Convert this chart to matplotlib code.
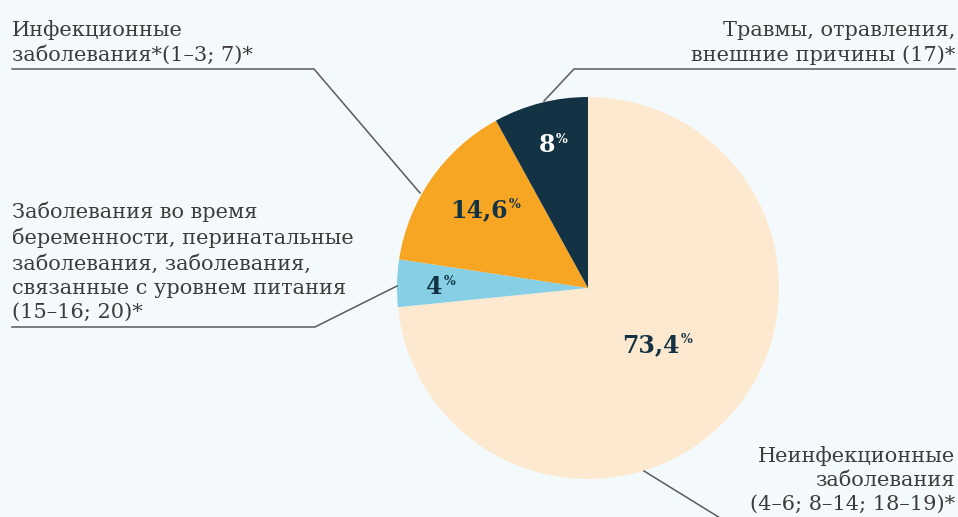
import matplotlib
matplotlib.use("Agg")
import matplotlib.pyplot as plt

# =============================================================================
# Data
# =============================================================================

shares = [73.4, 4.0, 14.6, 8.0]
value_labels = ["73,4", "4", "14,6", "8"]
category_labels = [
    "Неинфекционные\nзаболевания\n(4–6; 8–14; 18–19)*",
    "Заболевания во время\nбеременности, перинатальные\nзаболевания, заболевания,\n"
    "связанные с уровнем питания\n(15–16; 20)*",
    "Инфекционные\nзаболевания*(1–3; 7)*",
    "Травмы, отравления,\nвнешние причины (17)*",
]

# =============================================================================
# Style / layout (pixel coordinates, y grows downward)
# =============================================================================

W, H = 958, 517
BG = "#f4f9fc"
colors = ["#fde9cf", "#86cfe4", "#f6a623", "#133244"]
value_colors = ["#133244", "#133244", "#133244", "#ffffff"]
text_color = "#3c3c3c"
line_color = "#5a5a5a"

center = (588, 288)
radius = 191

# anchor of each value label: (x where "%" starts, baseline y)
value_pos = [(680, 352), (443, 294), (508, 217), (555, 152)]

# category text: (x, last-line baseline y, alignment)
label_pos = [(955, 510, "right"), (12, 318, "left"), (12, 61, "left"), (955, 61, "right")]

# leader lines as polylines
leaders = [
    [(644, 471), (725, 521)],
    [(12, 327), (315, 327), (397, 286)],
    [(12, 69), (314, 69), (420, 193)],
    [(955, 69), (574, 69), (544, 101)],
]

LABEL_FS = 15
VALUE_FS = 17


def main():
    fig = plt.figure(figsize=(W / 100, H / 100), dpi=100, facecolor=BG)
    ax = fig.add_axes([0, 0, 1, 1])
    ax.set_facecolor(BG)

    # y axis is inverted below, so "start at top, go clockwise" becomes
    # startangle=-90 with counterclockwise drawing in data space
    ax.pie(
        shares,
        colors=colors,
        center=center,
        radius=radius,
        startangle=-90,
        counterclock=True,
        wedgeprops=dict(linewidth=0),
    )

    ax.set_xlim(0, W)
    ax.set_ylim(H, 0)
    ax.set_aspect("equal")
    ax.axis("off")

    for text, (x, y), col in zip(value_labels, value_pos, value_colors):
        ax.text(x, y, text, ha="right", va="baseline", color=col,
                fontsize=VALUE_FS, fontweight="bold", family="DejaVu Serif")
        ax.text(x + 1, y - 9, "%", ha="left", va="baseline", color=col,
                fontsize=9, fontweight="bold", family="DejaVu Serif")

    for text, (x, y, ha) in zip(category_labels, label_pos):
        ax.text(x, y, text, ha=ha, va="baseline", color=text_color,
                fontsize=LABEL_FS, family="DejaVu Serif", linespacing=1.35,
                multialignment=ha)

    for pts in leaders:
        xs = [p[0] for p in pts]
        ys = [p[1] for p in pts]
        ax.plot(xs, ys, color=line_color, linewidth=1.1, clip_on=False)

    fig.savefig("out.png", dpi=100, facecolor=BG)


if __name__ == "__main__":
    main()
